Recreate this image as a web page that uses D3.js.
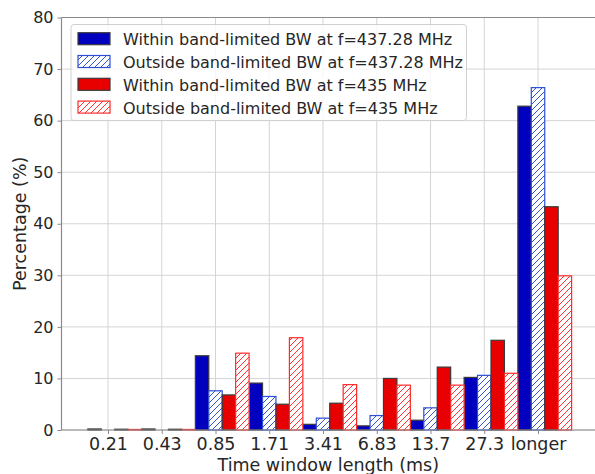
<!DOCTYPE html>
<html>
<head>
<meta charset="utf-8">
<script src="https://cdn.jsdelivr.net/npm/d3@7"></script>
<style>
	body { margin: 0; background: #fff; }
	text { font-family: "DejaVu Sans", sans-serif; fill: #262626; }
</style>
</head>
<body>
<svg id="chart" width="595" height="474"></svg>
<script>
// Categories (time window length, ms)
const categories = ["0.21", "0.43", "0.85", "1.71", "3.41", "6.83", "13.7", "27.3", "longer"];

// Percentages
const withinBlue = [0.2, 0.2, 14.4, 9.1, 1.1, 0.8, 1.9, 10.2, 62.8];
const outsideBlue = [0, 0, 7.6, 6.5, 2.3, 2.8, 4.3, 10.6, 66.4];
const withinRed = [0.15, 0.15, 6.8, 5.0, 5.2, 10.0, 12.2, 17.4, 43.3];
const outsideRed = [0.1, 0.1, 14.9, 17.9, 8.8, 8.7, 8.7, 11.0, 29.9];

const yTicks = [0, 10, 20, 30, 40, 50, 60, 70, 80];

const seriesNames = [
	"Within band-limited BW at f=437.28 MHz",
	"Outside band-limited BW at f=437.28 MHz",
	"Within band-limited BW at f=435 MHz",
	"Outside band-limited BW at f=435 MHz"
];

const blue = "#0000be";
const red = "#e80000";

const series = [
	{ name: seriesNames[0], values: withinBlue, fill: blue, stroke: "#3a3a3a" },
	{ name: seriesNames[1], values: outsideBlue, fill: "url(#hatchBlue)", stroke: "#2d4fd6" },
	{ name: seriesNames[2], values: withinRed, fill: red, stroke: "#3a3a3a" },
	{ name: seriesNames[3], values: outsideRed, fill: "url(#hatchRed)", stroke: "#ff2a2a" }
];

const svg = d3.select("#chart");
const mLeft = 61.5, mRight = 595, mTop = 17.5, mBottom = 430;

// hatch patterns
const defs = svg.append("defs");
function addHatch(id, color) {
	const p = defs.append("pattern")
		.attr("id", id)
		.attr("patternUnits", "userSpaceOnUse")
		.attr("width", 6)
		.attr("height", 6);
	p.append("rect").attr("width", 6).attr("height", 6).attr("fill", "#fff");
	p.append("path")
		.attr("d", "M-1,1 l2,-2 M0,6 l6,-6 M5,7 l2,-2")
		.attr("stroke", color)
		.attr("stroke-width", 1);
}
addHatch("hatchBlue", "#3355cc");
addHatch("hatchRed", "#ff3333");

const x = d3.scaleLinear().domain([-0.865, 9.06]).range([mLeft, mRight]);
const y = d3.scaleLinear().domain([0, 80]).range([mBottom, mTop]);
const bw = 0.25;

// grid
svg.append("g")
	.selectAll("line")
	.data(yTicks)
	.enter()
	.append("line")
	.attr("x1", mLeft).attr("x2", mRight)
	.attr("y1", (d) => y(d)).attr("y2", (d) => y(d))
	.attr("stroke", "#d4d4d4").attr("stroke-width", 1);
svg.append("g")
	.selectAll("line")
	.data(categories)
	.enter()
	.append("line")
	.attr("x1", (d, i) => x(i)).attr("x2", (d, i) => x(i))
	.attr("y1", mTop).attr("y2", mBottom)
	.attr("stroke", "#d4d4d4").attr("stroke-width", 1);

// bars
series.forEach((s, k) => {
	svg.append("g")
		.selectAll("rect")
		.data(s.values)
		.enter()
		.append("rect")
		.attr("x", (d, i) => x(i + (k - 1) * bw - bw / 2))
		.attr("width", x(bw) - x(0))
		.attr("y", (d) => y(d))
		.attr("height", (d) => mBottom - y(d))
		.attr("fill", s.fill)
		.attr("stroke", s.stroke)
		.attr("stroke-width", 1.2)
		.attr("stroke-opacity", (d) => (d > 0 ? 1 : 0));
});

// spines
svg.append("line").attr("x1", mLeft).attr("x2", mRight).attr("y1", mTop).attr("y2", mTop)
	.attr("stroke", "#8a8a8a").attr("stroke-width", 1.2);
svg.append("line").attr("x1", mLeft).attr("x2", mRight).attr("y1", mBottom).attr("y2", mBottom)
	.attr("stroke", "#8a8a8a").attr("stroke-width", 1.2);
svg.append("line").attr("x1", mLeft).attr("x2", mLeft).attr("y1", mTop).attr("y2", mBottom)
	.attr("stroke", "#8a8a8a").attr("stroke-width", 1.2);

// axes
const yAxis = svg.append("g")
	.attr("transform", `translate(${mLeft},0)`)
	.call(d3.axisLeft(y).tickValues(yTicks).tickSize(4).tickPadding(4));
const xAxis = svg.append("g")
	.attr("transform", `translate(0,${mBottom})`)
	.call(d3.axisBottom(x).tickValues(d3.range(categories.length))
		.tickFormat((i) => categories[i]).tickSize(4).tickPadding(4));
[yAxis, xAxis].forEach((a) => {
	a.select(".domain").remove();
	a.selectAll(".tick line").attr("stroke", "#8a8a8a");
	a.selectAll(".tick text").attr("fill", "#262626");
});
yAxis.selectAll(".tick text").style("font-size", "16px");
xAxis.selectAll(".tick text").style("font-size", "17.5px");

svg.append("text")
	.attr("x", (mLeft + mRight) / 2)
	.attr("y", 471)
	.attr("text-anchor", "middle")
	.style("font-size", "17.5px")
	.text("Time window length (ms)");
svg.append("text")
	.attr("transform", `translate(25.5,${(mTop + mBottom) / 2}) rotate(-90)`)
	.attr("text-anchor", "middle")
	.style("font-size", "17.5px")
	.text("Percentage (%)");

// legend
const lg = svg.append("g");
lg.append("rect")
	.attr("x", 71).attr("y", 24.5)
	.attr("width", 395.5).attr("height", 96)
	.attr("rx", 3)
	.attr("fill", "#fff").attr("fill-opacity", 0.8)
	.attr("stroke", "#d0d0d0");
series.forEach((s, k) => {
	const yy = 32.7 + k * 22.8;
	lg.append("rect")
		.attr("x", 78).attr("y", yy)
		.attr("width", 32).attr("height", 12)
		.attr("fill", s.fill).attr("stroke", s.stroke).attr("stroke-width", 1.2);
	lg.append("text")
		.attr("x", 123).attr("y", yy + 12.5)
		.style("font-size", "16px")
		.text(s.name);
});
</script>
</body>
</html>
